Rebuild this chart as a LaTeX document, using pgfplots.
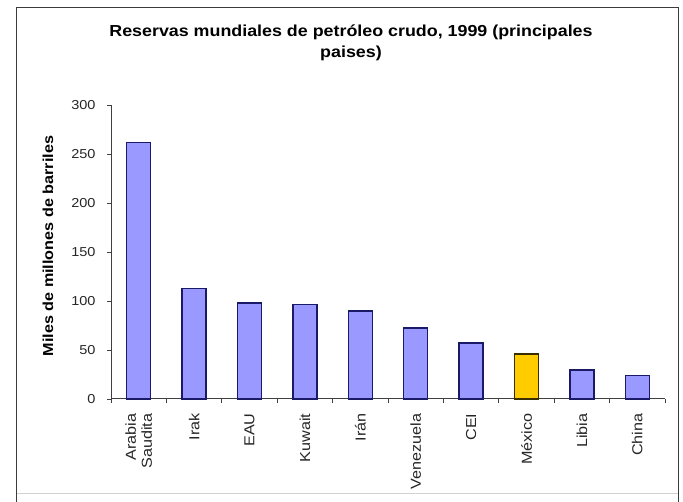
\documentclass[border=0pt]{standalone}
\usepackage{pgfplots}
\pgfplotsset{compat=1.18}
\usepackage{fontspec}
\setmainfont{Liberation Sans}[FakeStretch=1.12]

\definecolor{barblue}{HTML}{9999FF}
\definecolor{baredge}{HTML}{1A1A66}
\definecolor{baryellow}{HTML}{FFCC00}
\definecolor{yellowedge}{HTML}{3A2E00}
\definecolor{axisgray}{HTML}{404040}
\definecolor{framegray}{HTML}{3C3C3C}

\begin{document}
\begin{tikzpicture}
\path[use as bounding box, clip] (0bp,0bp) rectangle (683bp,502bp);

% chart frame (open at the bottom)
\draw[framegray, line width=1.5bp]
  (16.5bp,-5bp) -- (16.5bp,494.5bp) -- (678.5bp,494.5bp) -- (678.5bp,-5bp);
\draw[black!18, line width=0.8bp] (17bp,9bp) -- (678bp,9bp);

% title
\node[anchor=base, font=\bfseries\fontsize{16}{21}\selectfont] at (351bp,465.3bp)
  {Reservas mundiales de petróleo crudo, 1999 (principales};
\node[anchor=base, font=\bfseries\fontsize{16}{21}\selectfont] at (351bp,444bp)
  {paises)};

\begin{axis}[
  at={(111bp,103bp)}, anchor=south west,
  scale only axis,
  width=554bp, height=294bp,
  xmin=-0.5, xmax=9.5,
  ymin=0, ymax=300,
  axis lines*=left,
  axis line style={axisgray, line width=1bp},
  ytick={0,50,...,300},
  xtick={0,...,9},
  xticklabels={{Arabia\\Saudita},Irak,EAU,Kuwait,Irán,Venezuela,CEI,México,Libia,China},
  minor xtick={-0.5,0.5,...,9.5},
  tick align=outside,
  major tick length=4bp,
  minor tick length=4bp,
  tick style={axisgray, line width=0.8bp},
  major x tick style={draw=none},
  /pgf/number format/assume math mode=true,
  yticklabel style={font=\fontsize{13}{14}\selectfont, text=black!85, xshift=-8bp},
  xticklabel style={font=\fontsize{14.5}{16}\selectfont, text=black!85,
    rotate=90, anchor=east, align=right, xshift=-7bp},
  ylabel={Miles de millones de barriles},
  ylabel style={font=\bfseries\fontsize{14.5}{16}\selectfont,
    at={(axis description cs:-0.1137,0.52)}, anchor=center, rotate=0},
  ybar, bar width=0.43, bar shift=0pt,
  clip=false,
]
% reserves, thousands of millions of barrels
\addplot[fill=barblue, draw=baredge, line width=1.4bp] coordinates {
  (0,261.5) (1,112.5) (2,97.8) (3,96.5) (4,89.7)
  (5,72.6) (6,57.0) (8,29.5) (9,24.0)
};
\addplot[fill=baryellow, draw=yellowedge, line width=1.4bp] coordinates {
  (7,46.0)
};
\end{axis}
\end{tikzpicture}
\end{document}
